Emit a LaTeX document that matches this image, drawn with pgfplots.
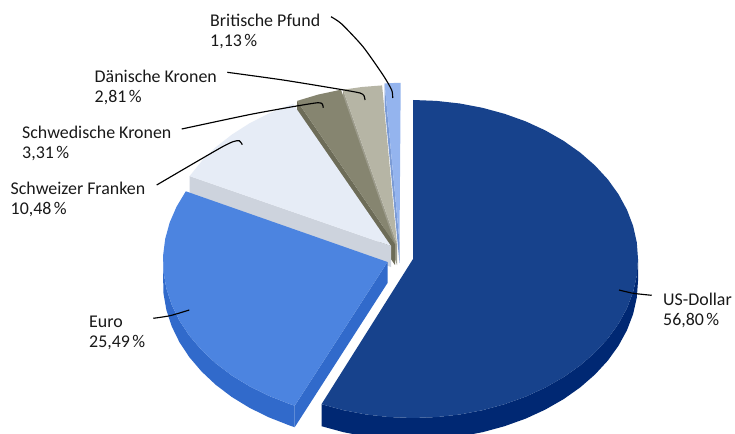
\documentclass[border=0pt]{standalone}
\usepackage{pgfplots}
\pgfplotsset{compat=1.18}
\usepackage{fontspec}
\setmainfont{Carlito}
\definecolor{usT}{HTML}{17428C}
\definecolor{usS}{HTML}{002873}
\definecolor{euT}{HTML}{4C84E0}
\definecolor{euS}{HTML}{316ACB}
\definecolor{chT}{HTML}{E6ECF6}
\definecolor{chS}{HTML}{CDD3DD}
\definecolor{seT}{HTML}{868570}
\definecolor{seS}{HTML}{6D6C58}
\definecolor{dkT}{HTML}{B6B5A5}
\definecolor{dkS}{HTML}{9D9C8C}
\definecolor{gbT}{HTML}{94B4EE}
\definecolor{gbS}{HTML}{7B9BD5}
\begin{document}
\begin{tikzpicture}
\begin{axis}[at={(0,0)},anchor=south west,width=735pt,height=433pt,scale only axis,
  xmin=0,xmax=735,ymin=0,ymax=433,y dir=reverse,hide axis]
\addplot[fill=white,draw=none] coordinates {(0,0)(735,0)(735,433)(0,433)};
% British pound
\addplot[fill=gbS,draw=none] coordinates {(384.6,83.4)(399.5,242)(399.5,263)(384.6,105)};
\addplot[fill=gbT,draw=none] coordinates {(399.5,242)(384.6,83.4)(393.6,83)(400.7,83)};
% Danish
\addplot[fill=dkS,draw=none] coordinates {(343,89.7)(397,244)(397,265)(343,111.7)};
\addplot[fill=dkT,draw=none] coordinates {(397,244)(343,89.7)(361.8,87)(382.1,85.4)};
% Swedish
\addplot[fill=seS,draw=none] coordinates {(297.1,100.9)(395,244)(395,265)(297.1,122.9)};
\addplot[fill=seT,draw=none] coordinates {(395,244)(297.1,100.9)(318,94.6)(341,89.7)};
% Swiss
\addplot[fill=chS,draw=none] coordinates {(189.6,176.1)(391,246)(391,267)(189.6,198)};
\addplot[fill=chT,draw=none] coordinates {(391,246)(189.6,176.1)(202.3,160.4)(216.1,146.9)(231.9,134.6)(249.4,123.4)(268.5,113.6)(288.9,105.3)(293.1,103.9)};
% Euro
\addplot[fill=euS,draw=none] coordinates {(163.1,255.5)(163.5,272.1)(166.4,288.6)(171.7,304.8)(179.4,320.6)(189.3,335.6)(201.5,349.9)(215.6,363.2)(231.7,375.4)(249.5,386.3)(268.8,395.8)(289.4,403.9)(294.7,405.7)(294.7,427.2)(289.4,425.4)(268.8,417.3)(249.5,407.8)(231.7,396.9)(215.6,384.7)(201.5,371.4)(189.3,357.1)(179.4,342.1)(171.7,326.3)(166.4,310.1)(163.5,293.6)(163.1,277)};
\addplot[fill=euS,draw=none] coordinates {(387.5,262)(294.7,405.7)(294.7,427.2)(387.5,283)};
\addplot[fill=euT,draw=none] coordinates {(387.5,262)(185.8,191.3)(176.6,206.6)(169.7,222.5)(165.2,238.9)(163.1,255.5)(163.5,272.1)(166.4,288.6)(171.7,304.8)(179.4,320.6)(189.3,335.6)(201.5,349.9)(215.6,363.2)(231.7,375.4)(249.5,386.3)(268.8,395.8)(289.4,403.9)(294.7,405.7)};
% US dollar
\addplot[fill=usS,draw=none] coordinates {(638,259)(636.8,275.6)(633.1,292.1)(627,308.1)(618.5,323.7)(607.9,338.5)(595,352.5)(580.2,365.4)(563.5,377.2)(545.3,387.6)(525.5,396.7)(504.5,404.2)(482.5,410.2)(459.8,414.5)(436.5,417.1)(413,418)(389.5,417.1)(366.2,414.5)(343.5,410.2)(321.5,404.2)(321.5,426.2)(343.5,432.2)(366.2,436.5)(389.5,439.1)(413,440)(436.5,439.1)(459.8,436.5)(482.5,432.2)(504.5,426.2)(525.5,418.7)(545.3,409.6)(563.5,399.2)(580.2,387.4)(595,374.5)(607.9,360.5)(618.5,345.7)(627,330.1)(633.1,314.1)(636.8,297.6)(638,281)};
\addplot[fill=usT,draw=none] coordinates {(413,259)(413,100)(436.5,100.9)(459.8,103.5)(482.5,107.8)(504.5,113.8)(525.5,121.3)(545.3,130.4)(563.5,140.8)(580.2,152.6)(595,165.5)(607.9,179.5)(618.5,194.3)(627,209.9)(633.1,225.9)(636.8,242.4)(638,259)(636.8,275.6)(633.1,292.1)(627,308.1)(618.5,323.7)(607.9,338.5)(595,352.5)(580.2,365.4)(563.5,377.2)(545.3,387.6)(525.5,396.7)(504.5,404.2)(482.5,410.2)(459.8,414.5)(436.5,417.1)(413,418)(389.5,417.1)(366.2,414.5)(343.5,410.2)(321.5,404.2)};
% leader lines
\addplot[black,line width=1.15pt,smooth,tension=0.4] coordinates {(331,16.7)(341.7,24)(363,46.7)(383,75)(391.7,90)(392.7,98)};
\addplot[black,line width=1.15pt,smooth,tension=0.4] coordinates {(227.3,72.3)(283,80)(340,89.3)(360,93)(364,95.7)(365,100)};
\addplot[black,line width=1.15pt,smooth,tension=0.4] coordinates {(181.7,129)(250,114.5)(296.7,106)(318,102.7)(322.3,104)(323.3,107.7)};
\addplot[black,line width=1.15pt,smooth,tension=0.4] coordinates {(156.7,185)(190,165.5)(222,147)(233,141.7)(239.3,140.7)(242.3,144.7)};
\addplot[black,line width=1.15pt,smooth,tension=0.4] coordinates {(153.3,318.3)(170,315.7)(189.3,310)};
\addplot[black,line width=1.15pt,smooth,tension=0.4] coordinates {(619,290)(633.3,293.3)(651.7,295.3)};
% labels
\begin{scope}[every node/.style={anchor=base west,inner sep=0pt,font=\fontsize{17.9pt}{20pt}\selectfont,text=black!90}]
\node at (axis cs:210,26.5) {Britische Pfund};
\node at (axis cs:210,46.5) {1,13\hspace{2.5pt}\%};
\node at (axis cs:94.5,82.5) {Dänische Kronen};
\node at (axis cs:94.5,102.5) {2,81\hspace{2.5pt}\%};
\node at (axis cs:22,138.5) {Schwedische Kronen};
\node at (axis cs:22,158.5) {3,31\hspace{2.5pt}\%};
\node at (axis cs:10.5,194.5) {Schweizer Franken};
\node at (axis cs:10.5,214.5) {10,48\hspace{2.5pt}\%};
\node at (axis cs:89,327.5) {Euro};
\node at (axis cs:89,347.5) {25,49\hspace{2.5pt}\%};
\node at (axis cs:663,305.5) {US-Dollar};
\node at (axis cs:663,325.5) {56,80\hspace{2.5pt}\%};
\end{scope}
\end{axis}
\end{tikzpicture}
\end{document}
